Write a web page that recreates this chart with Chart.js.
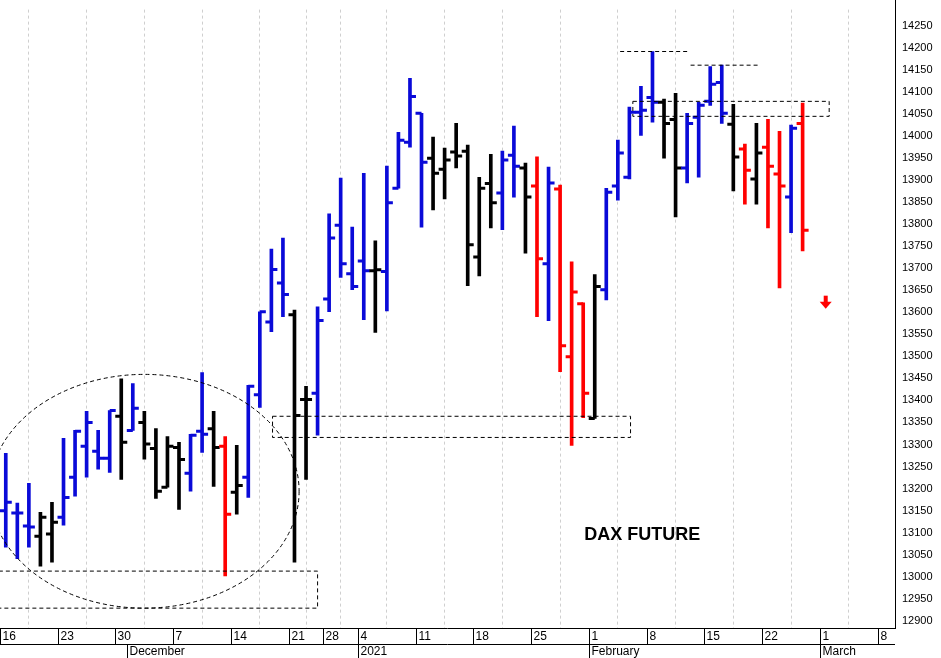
<!DOCTYPE html>
<html><head><meta charset="utf-8">
<script src="https://cdn.jsdelivr.net/npm/chart.js@4/dist/chart.umd.min.js"></script>
<style>html,body{margin:0;padding:0;background:#fff}#wrap{width:941px;height:658px}</style>
</head><body><div id="wrap"><canvas id="c"></canvas></div>
<script>
// ---------- DATA ----------
const opens  = [13150,13145,13115,13092,13097,13135,13226,13296,13285,13269,13364,13332,13350,13291,13203,13293,13235,13330,13336,13296,13192,13226,13413,13578,13666,13594,13402,13416,13630,13797,13687,13716,13694,13692,13881,13985,14051,13949,13924,13963,13965,13725,13892,13870,13956,13927,13886,13710,13879,13499,13619,13359,13651,13886,13906,14053,14087,14076,14037,13927,14042,14078,14121,14026,13970,13902,13974,13913,13861,14028];
const highs  = [13280,13167,13212,13146,13169,13314,13332,13375,13332,13377,13449,13438,13375,13336,13318,13305,13323,13463,13375,13318,13298,13434,13601,13743,13768,13605,13432,13612,13823,13904,13793,13915,13762,13931,14008,14130,14051,13997,13972,14028,13979,13906,13958,13965,14022,13938,13952,13929,13888,13714,13621,13685,13881,13990,14065,14112,14191,14083,14096,14051,14076,14157,14160,14071,13981,14028,14037,14010,14024,14074];
const lows   = [13067,13041,13067,13024,13033,13117,13183,13226,13244,13237,13221,13332,13267,13178,13203,13153,13194,13282,13205,13002,13142,13180,13384,13556,13590,13033,13221,13321,13601,13679,13651,13583,13554,13603,13881,13974,13793,13832,13857,13927,13660,13682,13791,13787,13861,13734,13590,13581,13465,13298,13361,13359,13628,13854,13902,14001,14031,13949,13816,13893,13906,14069,14028,13875,13845,13845,13791,13655,13780,13739];
const closes = [13169,13145,13113,13135,13124,13180,13330,13350,13269,13377,13305,13382,13301,13194,13296,13266,13321,13323,13293,13142,13207,13432,13601,13697,13640,13366,13402,13581,13768,13710,13658,13694,13696,13848,13990,14089,13940,13915,13945,13954,13753,13881,13848,13945,13931,13861,13721,13893,13524,13646,13416,13658,13872,13961,14053,14058,14076,14028,13927,14028,14069,14117,14051,13952,13922,13961,13931,13886,14017,13786];
const colorCodes = "BBBKKBBBBBKBKKKKBBKRKBBBBKKBBBBBKBBBBKKKKKKBBKRBRRRKBBBBBKKBBBBKRKRRBR";
const tickIdx    = [0,5,10,15,20,25,28,31,36,41,46,51,56,61,66,71,76];
const tickLabels = ["16","23","30","7","14","21","28","4","11","18","25","1","8","15","22","1","8"];
const monthIdx    = [11,31,51,71];
const monthLabels = ["December","2021","February","March"];

const palette = { B: "#0a0ad8", K: "#000000", R: "#ff0000" };
const colors = colorCodes.split("").map(c => palette[c]);

// ---------- PLUGIN: ticks, boxes, ellipse, text ----------
const extras = {
  id: "extras",
  afterDatasetsDraw(chart) {
    const { ctx, scales: { x, y } } = chart;
    const X = v => x.getPixelForValue(v), Y = v => y.getPixelForValue(v);
    ctx.save();
    // open/close ticks
    ctx.lineWidth = 3;
    opens.forEach((o, i) => {
      const px = X(i);
      ctx.strokeStyle = colors[i];
      ctx.beginPath();
      ctx.moveTo(px - 6, Y(o)); ctx.lineTo(px, Y(o));
      ctx.moveTo(px, Y(closes[i])); ctx.lineTo(px + 6, Y(closes[i]));
      ctx.stroke();
    });
    // dashed annotations
    ctx.strokeStyle = "#000"; ctx.lineWidth = 1; ctx.setLineDash([4, 3]);
    const box = (i0, i1, v0, v1) => ctx.strokeRect(X(i0), Y(v1), X(i1) - X(i0), Y(v0) - Y(v1));
    box(-0.6, 27.0, 12929, 13013);
    box(23.1, 54.1, 13316, 13364);
    box(54.3, 71.3, 14044, 14078);
    ctx.beginPath();
    ctx.moveTo(X(53.2), Y(14191)); ctx.lineTo(X(59.2), Y(14191));
    ctx.moveTo(X(59.3), Y(14160)); ctx.lineTo(X(65.3), Y(14160));
    ctx.stroke();
    ctx.beginPath();
    const cx = X(12.0), cy = Y(13194);
    ctx.ellipse(cx, cy, X(13.4) - X(0), Y(13194 - 265) - cy, 0, 0, Math.PI * 2);
    ctx.stroke();
    ctx.setLineDash([]);
    // red arrow
    const ax = X(71), ay = Y(13617);
    ctx.fillStyle = "#ff0000";
    ctx.fillRect(ax - 2, ay - 9, 4, 7);
    ctx.beginPath(); ctx.moveTo(ax - 6, ay - 3); ctx.lineTo(ax + 6, ay - 3); ctx.lineTo(ax, ay + 4); ctx.fill();
    // title text
    ctx.fillStyle = "#000"; ctx.font = "bold 18px 'Liberation Sans', Arial, sans-serif";
    ctx.textBaseline = "middle";
    ctx.fillText("DAX FUTURE", X(50.1), Y(13095));
    // right axis line full height
    ctx.strokeStyle = "#000";
    ctx.beginPath(); ctx.moveTo(y.left + 0.5, 0); ctx.lineTo(y.left + 0.5, chart.chartArea.bottom); ctx.stroke();
    // x axis labels
    ctx.font = "12px 'Liberation Sans', Arial, sans-serif";
    ctx.textBaseline = "top";
    const b = chart.chartArea.bottom;
    ctx.beginPath(); ctx.moveTo(x.left, b + 0.5); ctx.lineTo(x.right, b + 0.5);
    ctx.moveTo(x.left, b + 16.5); ctx.lineTo(x.right, b + 16.5); ctx.stroke();
    tickIdx.forEach((t, k) => {
      const px = Math.round(X(t - 0.5)) + 0.5;
      ctx.beginPath(); ctx.moveTo(px, b); ctx.lineTo(px, b + 17); ctx.stroke();
      ctx.fillText(tickLabels[k], px + 2, b + 3);
    });
    monthIdx.forEach((t, k) => {
      const px = Math.round(X(t - 0.5)) + 0.5;
      ctx.beginPath(); ctx.moveTo(px, b + 16); ctx.lineTo(px, b + 30); ctx.stroke();
      ctx.fillText(monthLabels[k], px + 2, b + 18);
    });
    ctx.restore();
  }
};

new Chart(document.getElementById("c"), {
  type: "bar",
  data: {
    datasets: [{
      data: highs.map((h, i) => ({ x: i, y: [lows[i], h] })),
      backgroundColor: colors,
      barThickness: 3,
      borderWidth: 0
    }]
  },
  options: {
    responsive: true, maintainAspectRatio: false, animation: false,
    layout: { padding: 0 },
    plugins: { legend: { display: false }, tooltip: { enabled: false } },
    scales: {
      x: {
        type: "linear", min: -0.5, max: 77, offset: false,
        afterBuildTicks: s => { s.ticks = tickIdx.map(v => ({ value: v - 0.5 })); },
        afterFit: s => { s.height = 30; },
        ticks: { display: false },
        grid: { color: "#cfcfcf", tickLength: 0, drawTicks: false },
        border: { display: false, dash: [3, 3] }
      },
      y: {
        position: "right", min: 12884, max: 14286,
        afterBuildTicks: s => { const t = []; for (let v = 12900; v <= 14250; v += 50) t.push({ value: v }); s.ticks = t; },
        afterFit: s => { s.width = 46; },
        ticks: { color: "#000", font: { family: "'Liberation Sans', Arial, sans-serif", size: 11 }, padding: 3, callback: v => String(v) },
        grid: { display: false, drawOnChartArea: false, tickLength: 4 },
        border: { display: true, color: "#000" }
      }
    }
  },
  plugins: [extras]
});
</script></body></html>
